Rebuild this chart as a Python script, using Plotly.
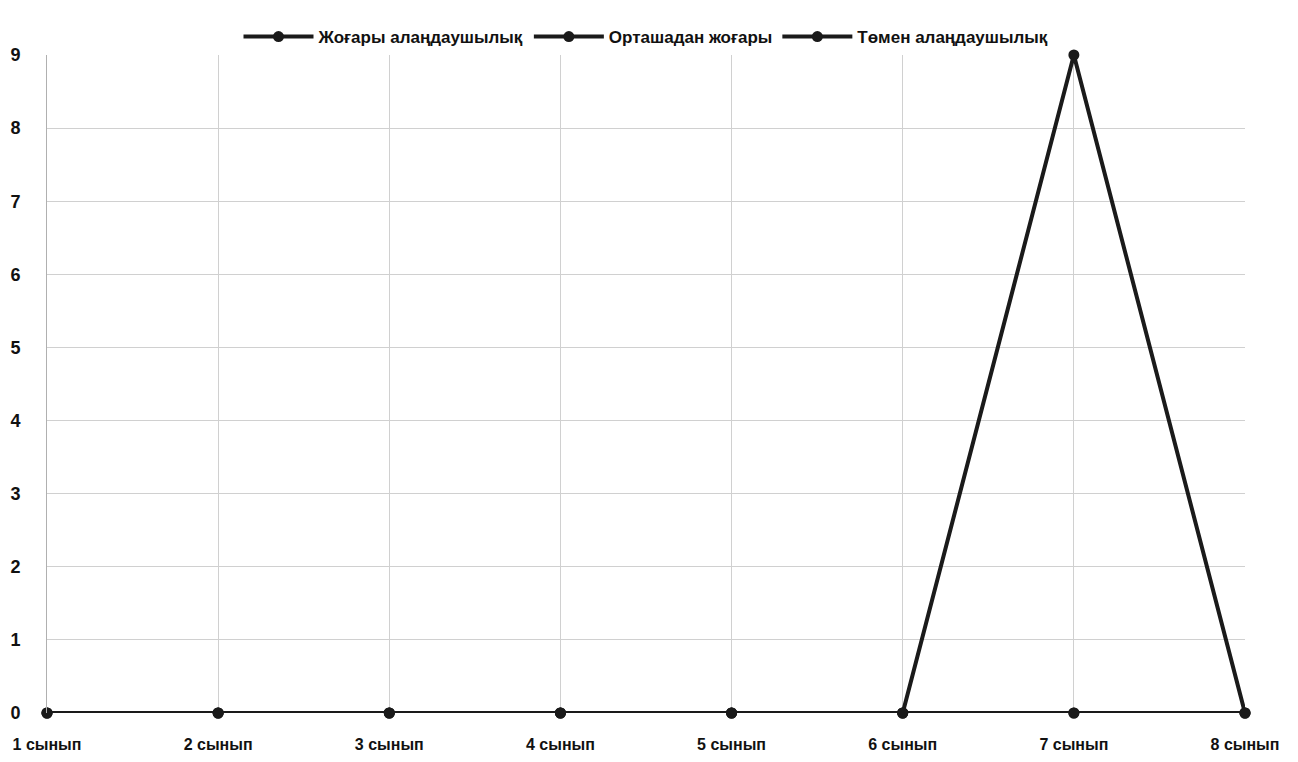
import plotly.graph_objects as go

categories = ["1 сынып", "2 сынып", "3 сынып", "4 сынып", "5 сынып", "6 сынып", "7 сынып", "8 сынып"]
series_names = ["Жоғары алаңдаушылық", "Орташадан жоғары", "Төмен алаңдаушылық"]
high_anxiety = [0, 0, 0, 0, 0, 0, 0, 0]
above_average = [0, 0, 0, 0, 0, 0, 0, 0]
low_anxiety = [0, 0, 0, 0, 0, 0, 9, 0]
y_ticks = [0, 1, 2, 3, 4, 5, 6, 7, 8, 9]

FONT = "Liberation Sans, Arial, sans-serif"

fig = go.Figure()
for name, vals in zip(series_names, [high_anxiety, above_average, low_anxiety]):
    fig.add_trace(go.Scatter(
        x=categories, y=vals, name=name, mode="lines+markers",
        line=dict(color="#1a1a1a", width=4),
        marker=dict(color="#1a1a1a", size=11),
        cliponaxis=False,
    ))

fig.update_layout(
    width=1298, height=762,
    paper_bgcolor="white", plot_bgcolor="white",
    margin=dict(l=47, r=53, t=55, b=49, autoexpand=False),
    font=dict(family=FONT, size=16, color="#111"),
    legend=dict(orientation="h", x=0.5, xanchor="center", y=1.0, yanchor="bottom",
                font=dict(family=FONT, size=17, color="#111", weight="bold"),
                itemwidth=70),
    showlegend=True,
)
fig.update_xaxes(
    type="category", range=[0, 7], showgrid=True, gridcolor="#d0d0d0", gridwidth=1,
    zeroline=False, showline=False, ticks="", ticklabelstandoff=20, automargin=False,
    tickfont=dict(family=FONT, size=16, weight="bold", color="#111"),
)
fig.update_yaxes(
    range=[0, 9], tickvals=y_ticks, showgrid=True, gridcolor="#d0d0d0", gridwidth=1,
    zeroline=False, showline=True, linecolor="#b0b0b0", ticks="",
    ticklabelstandoff=22, automargin=False,
    tickfont=dict(family=FONT, size=18, weight="bold", color="#111"),
)

fig.write_html("out.html", config={"displayModeBar": False})

with open("out.html", "r", encoding="utf-8") as f:
    html = f.read()
html = html.replace("<body>", '<body style="margin:0;overflow:hidden">', 1)
with open("out.html", "w", encoding="utf-8") as f:
    f.write(html)
